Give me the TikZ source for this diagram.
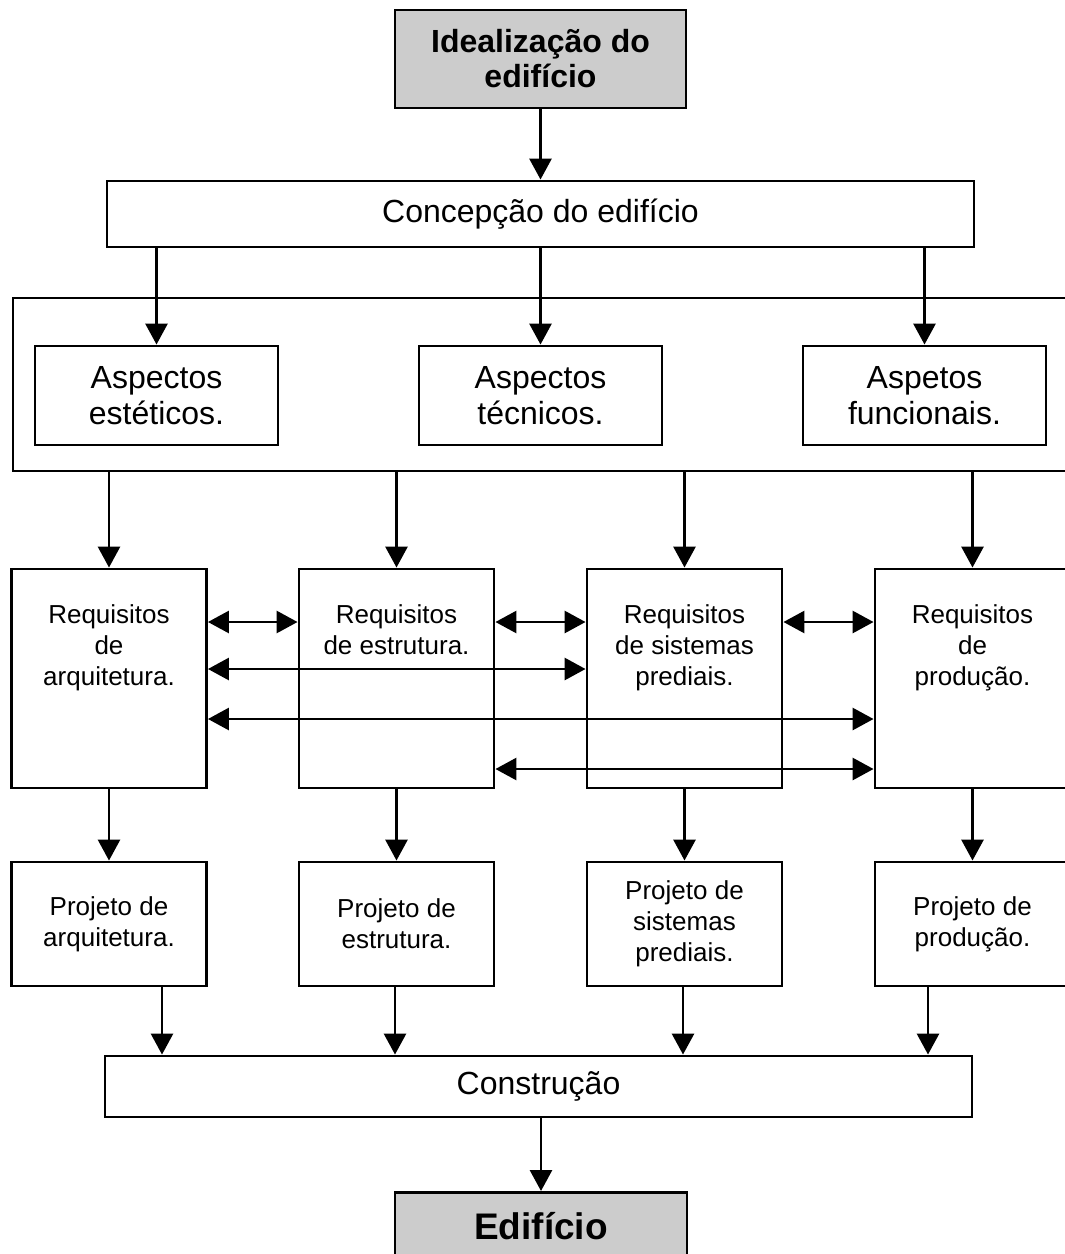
\documentclass[tikz,border=0pt]{standalone}
\usepackage{fontspec}
\setmainfont{Liberation Sans}
\usetikzlibrary{arrows.meta}
\begin{document}
\begin{tikzpicture}[x=1pt,y=-1pt,
  lw/.style={line width=2.9pt},
  box/.style={draw, lw, rectangle, inner sep=0pt, align=center},
  gbox/.style={box, fill=gray!40},
  arr/.style={lw, -{Triangle[width=22pt,length=21pt]}},
  dbl/.style={lw, {Triangle[width=22pt,length=21pt]}-{Triangle[width=22pt,length=21pt]}},
  big/.style={font=\fontsize{32}{36}\selectfont},
  bigbold/.style={font=\fontsize{32}{35}\selectfont\bfseries},
  small/.style={font=\fontsize{26}{31}\selectfont},
  aspbox/.style={box, big, minimum width=243pt, minimum height=99pt},
  reqbox/.style={box, minimum width=195pt, minimum height=219pt},
  projbox/.style={box, small, minimum width=195pt, minimum height=124pt},
  txt/.style={inner sep=0pt, align=center},
]
\useasboundingbox (0,0) rectangle (1065,1254);
\clip (0,0) rectangle (1065,1254);
\fill[white] (0,0) rectangle (1065,1254);

% top and concept
\node[gbox, bigbold, minimum width=291pt, minimum height=98pt] (ideal) at (540.5,59) {Idealização do\\edifício};
\node[box, big, minimum width=867pt, minimum height=66pt] (concep) at (540.5,214) {Concepção do edifício};

% frame around the three aspects
\node[box, minimum width=1077pt, minimum height=173pt] (frame) at (551.5,384.5) {};
\node[aspbox] (a1) at (156.5,395.5) {Aspectos\\estéticos.};
\node[aspbox] (a2) at (540.5,395.5) {Aspectos\\técnicos.};
\node[aspbox] (a3) at (924.5,395.5) {Aspetos\\funcionais.};

% requirements
\node[reqbox] (r1) at (109,678.5) {};
\node[reqbox] (r2) at (396.5,678.5) {};
\node[reqbox] (r3) at (684.5,678.5) {};
\node[reqbox] (r4) at (972.5,678.5) {};
\node[txt, small, anchor=north] (r1t) at (109,604) {Requisitos\\de\\arquitetura.};
\node[txt, small, anchor=north] (r2t) at (396.5,604) {Requisitos\\de estrutura.};
\node[txt, small, anchor=north] (r3t) at (684.5,604) {Requisitos\\de sistemas\\prediais.};
\node[txt, small, anchor=north] (r4t) at (972.5,604) {Requisitos\\de\\produção.};

% designs
\node[projbox] (p1) at (109,924) {Projeto de\\arquitetura.};
\node[projbox] (p2) at (396.5,924) {Projeto de\\estrutura.};
\node[projbox] (p3) at (684.5,924) {Projeto de\\sistemas\\prediais.};
\node[projbox] (p4) at (972.5,924) {Projeto de\\produção.};

% construction and building
\node[box, big, minimum width=867pt, minimum height=61pt] (constr) at (538.5,1086.5) {Construção};
\node[gbox, minimum width=292pt, minimum height=100pt, anchor=north] (edif) at (541,1191) {};
\node[txt, anchor=base, font=\fontsize{37}{42}\selectfont\bfseries] (ediftxt) at (541,1239) {Edifício};

% vertical flow
\draw[arr] (ideal.south) -- (ideal.south |- concep.north);
\foreach \a in {a1,a2,a3}
  \draw[arr] (\a.north |- concep.south) -- (\a.north);
\foreach \r/\p in {r1/p1,r2/p2,r3/p3,r4/p4} {
  \draw[arr] (\r.north |- frame.south) -- (\r.north);
  \draw[arr] (\r.south) -- (\p.north);
}
\coordinate (c1) at (162,0);
\coordinate (c2) at (395,0);
\coordinate (c3) at (683,0);
\coordinate (c4) at (928,0);
\draw[arr] (c1 |- p1.south) -- (c1 |- constr.north);
\draw[arr] (c2 |- p2.south) -- (c2 |- constr.north);
\draw[arr] (c3 |- p3.south) -- (c3 |- constr.north);
\draw[arr] (c4 |- p4.south) -- (c4 |- constr.north);
\draw[arr] (constr.south -| edif.north) -- (edif.north);

% exchanges between requirements
\coordinate (h1) at (0,622);
\coordinate (h2) at (0,669);
\coordinate (h3) at (0,719);
\coordinate (h4) at (0,769);
\draw[dbl] (r1.east |- h1) -- (r2.west |- h1);
\draw[dbl] (r2.east |- h1) -- (r3.west |- h1);
\draw[dbl] (r3.east |- h1) -- (r4.west |- h1);
\draw[dbl] (r1.east |- h2) -- (r3.west |- h2);
\draw[dbl] (r1.east |- h3) -- (r4.west |- h3);
\draw[dbl] (r2.east |- h4) -- (r4.west |- h4);
\end{tikzpicture}
\end{document}
